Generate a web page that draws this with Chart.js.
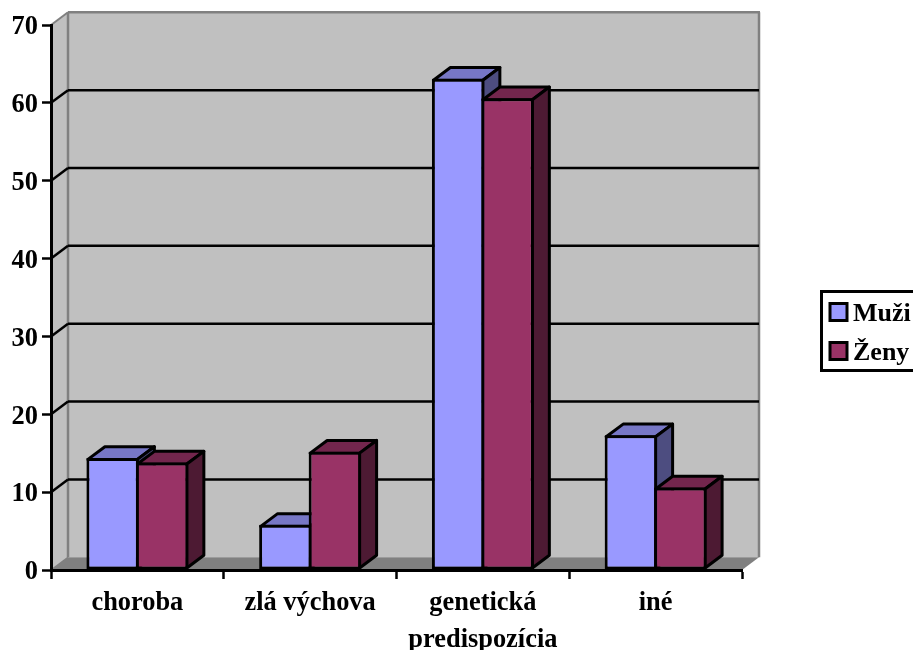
<!DOCTYPE html>
<html>
<head>
<meta charset="utf-8">
<title>Graf</title>
<script src="https://cdn.jsdelivr.net/npm/chart.js@4"></script>
<style>
    html, body { margin: 0; padding: 0; background: #fff; overflow: hidden; }
    canvas { display: block; }
</style>
</head>
<body>
<canvas id="chart" width="913" height="650"></canvas>
<script>
const categories = ['choroba', 'zlá výchova', ['genetická', 'predispozícia'], 'iné'];
const muzi = [14.4, 5.8, 63.1, 17.3];
const zeny = [13.8, 15.2, 60.6, 10.6];

const fontFamily = '"Liberation Serif", "Times New Roman", serif';
const depthX = 17;
const depthY = 12.7;

function polygon(ctx, pts, fill, stroke, width) {
    ctx.beginPath();
    ctx.moveTo(pts[0][0], pts[0][1]);
    for (let i = 1; i < pts.length; i++) {
        ctx.lineTo(pts[i][0], pts[i][1]);
    }
    ctx.closePath();
    if (fill) {
        ctx.fillStyle = fill;
        ctx.fill();
    }
    if (stroke) {
        ctx.strokeStyle = stroke;
        ctx.lineWidth = width;
        ctx.stroke();
    }
}

function line(ctx, x1, y1, x2, y2, color, width) {
    ctx.beginPath();
    ctx.moveTo(x1, y1);
    ctx.lineTo(x2, y2);
    ctx.strokeStyle = color;
    ctx.lineWidth = width;
    ctx.stroke();
}

// side wall, back wall, floor and the gridlines running across them
const roomPlugin = {
    id: 'room',
    beforeDraw(chart) {
        const ctx = chart.ctx;
        const x = chart.scales.x;
        const y = chart.scales.y;
        const left = x.left, right = x.right;
        const top = y.getPixelForValue(70), bottom = y.getPixelForValue(0);

        ctx.save();
        polygon(ctx, [[left, top], [left + depthX, top - depthY], [left + depthX, bottom - depthY], [left, bottom]], '#c0c0c0');
        polygon(ctx, [[left + depthX, top - depthY], [right + depthX, top - depthY], [right + depthX, bottom - depthY], [left + depthX, bottom - depthY]], '#c0c0c0');
        polygon(ctx, [[left, bottom], [left + depthX, bottom - depthY], [right + depthX, bottom - depthY], [right, bottom]], '#808080');

        line(ctx, left, top, left + depthX, top - depthY, '#808080', 2);
        line(ctx, left + depthX, top - depthY, right + depthX + 1, top - depthY, '#808080', 2.5);
        line(ctx, left + depthX, top - depthY, left + depthX, bottom - depthY, '#808080', 2.5);
        line(ctx, right + depthX, top - depthY, right + depthX, bottom - depthY, '#808080', 2.5);
        line(ctx, left, bottom, left + depthX, bottom - depthY, '#808080', 1.5);

        y.ticks.forEach(function (tick) {
            if (tick.value === 0 || tick.value === 70) {
                return;
            }
            const py = y.getPixelForValue(tick.value);
            line(ctx, left, py, left + depthX, py - depthY, '#000', 2.5);
            line(ctx, left + depthX, py - depthY, right + depthX, py - depthY, '#000', 2.5);
        });
        ctx.restore();
    }
};

// bars are painted here so each one gets its top and side before the front face
const boxPlugin = {
    id: 'boxes',
    beforeDatasetsDraw(chart) {
        const ctx = chart.ctx;
        const bw = 3;
        const half = bw / 2;
        ctx.save();
        ctx.lineJoin = 'round';
        categories.forEach(function (c, i) {
            chart.data.datasets.forEach(function (ds, d) {
                const bar = chart.getDatasetMeta(d).data[i];
                const p = bar.getProps(['x', 'y', 'base', 'width']);
                const l = p.x - p.width / 2 + half;
                const r = p.x + p.width / 2 - half;
                const t = p.y + half;
                const b = p.base - half;
                polygon(ctx, [[l, t], [l + depthX, t - depthY], [r + depthX, t - depthY], [r, t]], ds.topColor, '#000', bw);
                polygon(ctx, [[r, t], [r + depthX, t - depthY], [r + depthX, b - depthY], [r, b]], ds.sideColor, '#000', bw);
                bar.draw(ctx);
            });
        });
        ctx.restore();
        return false;
    }
};

// legend box runs off the right edge of the canvas
const legendPlugin = {
    id: 'sideLegend',
    afterDraw(chart) {
        const ctx = chart.ctx;
        ctx.save();
        ctx.strokeStyle = '#000';
        ctx.lineWidth = 3;
        ctx.strokeRect(821.5, 291.5, 110, 79);
        ctx.font = 'bold 26px ' + fontFamily;
        ctx.textBaseline = 'alphabetic';
        ctx.textAlign = 'left';
        chart.data.datasets.forEach(function (ds, d) {
            const rowY = 303.5 + d * 39;
            ctx.fillStyle = ds.backgroundColor;
            ctx.fillRect(830, rowY, 17, 17);
            ctx.strokeRect(830, rowY, 17, 17);
            ctx.fillStyle = '#000';
            ctx.fillText(ds.label, 853, rowY + 17.5);
        });
        ctx.restore();
    }
};

const ctx = document.getElementById('chart').getContext('2d');
const myChart = new Chart(ctx, {
    type: 'bar',
    data: {
        labels: categories,
        datasets: [{
            label: 'Muži',
            data: muzi,
            backgroundColor: '#9999ff',
            topColor: '#7777c6',
            sideColor: '#4d4d80',
            borderColor: '#000',
            borderWidth: 3,
            borderSkipped: false
        }, {
            label: 'Ženy',
            data: zeny,
            backgroundColor: '#993366',
            topColor: '#73264d',
            sideColor: '#4d1a33',
            borderColor: '#000',
            borderWidth: 3,
            borderSkipped: false
        }]
    },
    options: {
        responsive: false,
        animation: false,
        categoryPercentage: 0.573,
        barPercentage: 1.06,
        layout: {
            padding: { top: 25, right: 171, left: 0, bottom: 0 }
        },
        scales: {
            x: {
                afterFit: function (scale) { scale.height = 80; },
                border: { display: true, color: '#000', width: 3 },
                grid: { offset: true, drawOnChartArea: false, drawTicks: true, tickLength: 9, tickColor: '#000', tickWidth: 2.5 },
                ticks: {
                    color: '#000',
                    autoSkip: false,
                    maxRotation: 0,
                    padding: 6,
                    font: { family: fontFamily, size: 26.4, weight: 'bold', lineHeight: 1.385 }
                }
            },
            y: {
                min: 0,
                max: 70,
                afterFit: function (scale) { scale.width = 51; },
                border: { display: true, color: '#000', width: 3 },
                grid: { drawOnChartArea: false, drawTicks: true, tickLength: 9, tickColor: '#000', tickWidth: 2.5 },
                ticks: {
                    color: '#000',
                    stepSize: 10,
                    padding: 4,
                    labelOffset: 2.5,
                    font: { family: fontFamily, size: 26.4, weight: 'bold' }
                }
            }
        },
        plugins: {
            legend: { display: false },
            title: { display: false },
            tooltip: { enabled: false }
        }
    },
    plugins: [roomPlugin, boxPlugin, legendPlugin]
});
</script>
</body>
</html>
